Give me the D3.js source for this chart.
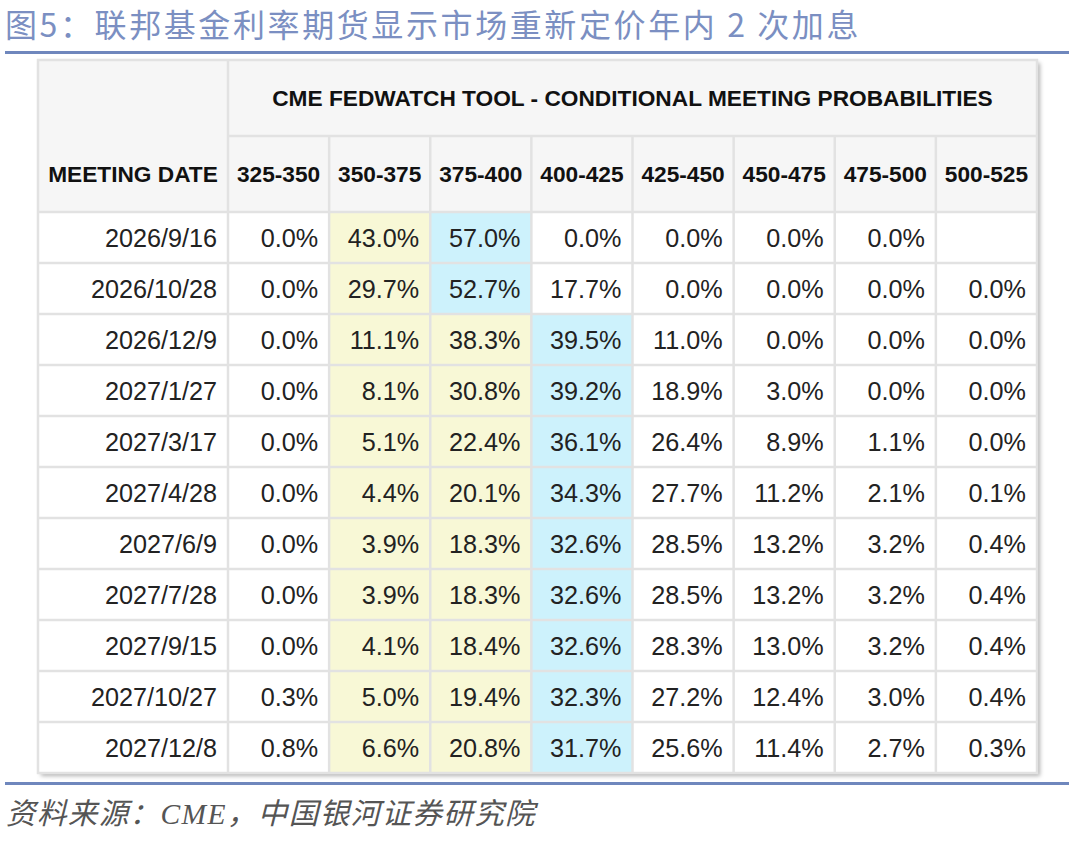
<!doctype html>
<html>
<head>
<meta charset="utf-8">
<style>
  body { margin: 0; background: #fff; }
  svg { display: block; }
</style>
<script src="https://d3js.org/d3.v7.min.js"></script>
</head>
<body>
<svg width="1080" height="847"></svg>
<script>
// chart data
var titleText = "图5：联邦基金利率期货显示市场重新定价年内 2 次加息";
var sourceText = "资料来源：CME，中国银河证券研究院";
var toolTitle = "CME FEDWATCH TOOL - CONDITIONAL MEETING PROBABILITIES";
var dateHeader = "MEETING DATE";
var ranges = ["325-350", "350-375", "375-400", "400-425", "425-450", "450-475", "475-500", "500-525"];
var dates = ["2026/9/16", "2026/10/28", "2026/12/9", "2027/1/27", "2027/3/17", "2027/4/28",
             "2027/6/9", "2027/7/28", "2027/9/15", "2027/10/27", "2027/12/8"];
var probs = [
  [0.0, 43.0, 57.0,  0.0,  0.0,  0.0, 0.0, null],
  [0.0, 29.7, 52.7, 17.7,  0.0,  0.0, 0.0, 0.0],
  [0.0, 11.1, 38.3, 39.5, 11.0,  0.0, 0.0, 0.0],
  [0.0,  8.1, 30.8, 39.2, 18.9,  3.0, 0.0, 0.0],
  [0.0,  5.1, 22.4, 36.1, 26.4,  8.9, 1.1, 0.0],
  [0.0,  4.4, 20.1, 34.3, 27.7, 11.2, 2.1, 0.1],
  [0.0,  3.9, 18.3, 32.6, 28.5, 13.2, 3.2, 0.4],
  [0.0,  3.9, 18.3, 32.6, 28.5, 13.2, 3.2, 0.4],
  [0.0,  4.1, 18.4, 32.6, 28.3, 13.0, 3.2, 0.4],
  [0.3,  5.0, 19.4, 32.3, 27.2, 12.4, 3.0, 0.4],
  [0.8,  6.6, 20.8, 31.7, 25.6, 11.4, 2.7, 0.3]
];
// ranges shaded yellow (current target band)
var currentRanges = ["350-375", "375-400"];

var svg = d3.select("svg");

var left = 38, right = 1037, dateRight = 228;
var head1Top = 60, head2Top = 136, bodyTop = 212, bodyBottom = 773;
var border = "#e2e2e2", headBg = "#f6f6f6", yellow = "#f8f8d6", blue = "#cdf2fc";
var sans = "'Liberation Sans', Arial, sans-serif";

var x = d3.scaleBand().domain(ranges).range([dateRight, right]);
var y = d3.scaleBand().domain(dates).range([bodyTop, bodyBottom]);

// title + rules
svg.append("text")
  .attr("x", 5).attr("y", 37)
  .style("font-family", "'Noto Sans CJK SC', sans-serif")
  .style("font-size", "32px")
  .style("letter-spacing", "2.6px")
  .style("fill", "#7b8fc2")
  .text(titleText);

svg.append("rect").attr("x", 5).attr("y", 51).attr("width", 1064).attr("height", 3).attr("fill", "#6f87bd");
svg.append("rect").attr("x", 5).attr("y", 782).attr("width", 1064).attr("height", 3).attr("fill", "#6f87bd");

svg.append("text")
  .attr("x", 6).attr("y", 824)
  .style("font-family", "'Liberation Serif', 'Noto Sans CJK SC', serif")
  .style("font-style", "italic")
  .style("font-size", "29.5px")
  .style("letter-spacing", "1.4px")
  .style("fill", "#555")
  .text(sourceText);

// table shadow
var defs = svg.append("defs");
var f = defs.append("filter").attr("id", "shadow").attr("x", "-5%").attr("y", "-5%").attr("width", "110%").attr("height", "110%");
f.append("feDropShadow").attr("dx", 3).attr("dy", 3).attr("stdDeviation", 2)
  .attr("flood-color", "#000").attr("flood-opacity", 0.3);

var table = svg.append("g");
table.append("rect")
  .attr("x", left).attr("y", head1Top)
  .attr("width", right - left).attr("height", bodyBottom - head1Top)
  .attr("fill", "#fff")
  .attr("filter", "url(#shadow)");

// header background
table.append("rect").attr("x", left).attr("y", head1Top)
  .attr("width", right - left).attr("height", bodyTop - head1Top).attr("fill", headBg);

// body cells
var cells = [];
probs.forEach(function(row, i) {
  var mx = d3.max(row);
  row.forEach(function(v, j) {
    cells.push({ date: dates[i], range: ranges[j], value: v, isMax: v === mx });
  });
});

table.append("g").selectAll("rect")
  .data(cells).enter()
  .append("rect")
  .attr("x", function(d) { return x(d.range); })
  .attr("y", function(d) { return y(d.date); })
  .attr("width", x.bandwidth())
  .attr("height", y.bandwidth())
  .attr("fill", function(d) {
    if (d.isMax) return blue;
    if (currentRanges.indexOf(d.range) >= 0) return yellow;
    return "#fff";
  });

// grid lines
var grid = table.append("g").attr("stroke", border).attr("stroke-width", 2.5).attr("fill", "none");
grid.append("rect").attr("x", left).attr("y", head1Top).attr("width", right - left).attr("height", bodyBottom - head1Top);
grid.append("line").attr("x1", dateRight).attr("x2", dateRight).attr("y1", head1Top).attr("y2", bodyBottom);
grid.selectAll("line.v").data(ranges.slice(1)).enter().append("line")
  .attr("class", "v")
  .attr("x1", function(d) { return x(d); }).attr("x2", function(d) { return x(d); })
  .attr("y1", head2Top).attr("y2", bodyBottom);
grid.append("line").attr("x1", dateRight).attr("x2", right).attr("y1", head2Top).attr("y2", head2Top);
grid.selectAll("line.h").data(dates).enter().append("line")
  .attr("class", "h")
  .attr("x1", left).attr("x2", right)
  .attr("y1", function(d) { return y(d); }).attr("y2", function(d) { return y(d); });

// header text
table.append("text")
  .attr("x", (dateRight + right) / 2).attr("y", (head1Top + head2Top) / 2 + 8)
  .attr("text-anchor", "middle")
  .style("font-family", sans).style("font-weight", "bold").style("font-size", "22.7px")
  .style("fill", "#111")
  .text(toolTitle);

table.append("text")
  .attr("x", (left + dateRight) / 2).attr("y", (head2Top + bodyTop) / 2 + 8)
  .attr("text-anchor", "middle")
  .style("font-family", sans).style("font-weight", "bold").style("font-size", "22.7px")
  .style("fill", "#111")
  .text(dateHeader);

table.append("g").selectAll("text")
  .data(ranges).enter()
  .append("text")
  .attr("x", function(d) { return x(d) + x.bandwidth() / 2; })
  .attr("y", (head2Top + bodyTop) / 2 + 8)
  .attr("text-anchor", "middle")
  .style("font-family", sans).style("font-weight", "bold").style("font-size", "22.7px")
  .style("fill", "#111")
  .text(function(d) { return d; });

// body text
table.append("g").selectAll("text")
  .data(dates).enter()
  .append("text")
  .attr("x", dateRight - 11)
  .attr("y", function(d) { return y(d) + y.bandwidth() / 2 + 9; })
  .attr("text-anchor", "end")
  .style("font-family", sans).style("font-size", "25.2px")
  .style("fill", "#222")
  .text(function(d) { return d; });

table.append("g").selectAll("text")
  .data(cells.filter(function(d) { return d.value !== null; })).enter()
  .append("text")
  .attr("x", function(d) { return x(d.range) + x.bandwidth() - 11; })
  .attr("y", function(d) { return y(d.date) + y.bandwidth() / 2 + 9; })
  .attr("text-anchor", "end")
  .style("font-family", sans).style("font-size", "25.2px")
  .style("fill", "#222")
  .text(function(d) { return d.value.toFixed(1) + "%"; });
</script>
</body>
</html>
